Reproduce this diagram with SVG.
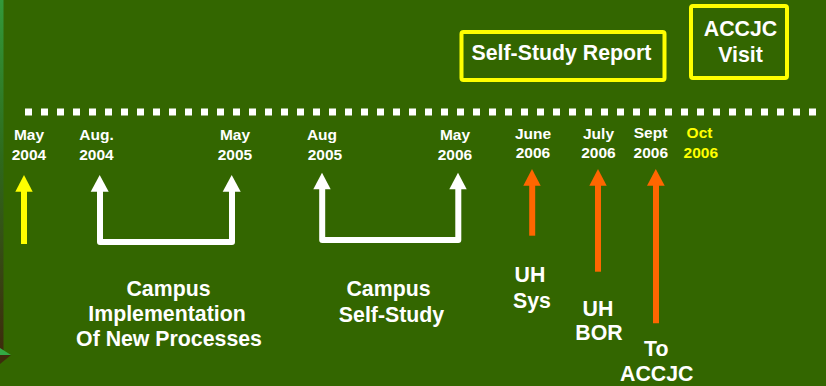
<svg xmlns="http://www.w3.org/2000/svg" width="826" height="386" viewBox="0 0 826 386">
<defs>
<linearGradient id="strip" x1="0" y1="0" x2="0" y2="1">
<stop offset="0" stop-color="#33993a"/>
<stop offset="0.45" stop-color="#2e6a1c"/>
<stop offset="1" stop-color="#3d2c0c"/>
</linearGradient>
<style>
.d{font-family:"Liberation Sans",Arial,sans-serif;font-weight:bold;font-size:15.5px;fill:#ffffff;text-anchor:middle}
.y{fill:#ffff00}
.b{font-family:"Liberation Sans",Arial,sans-serif;font-weight:bold;font-size:21.3px;fill:#ffffff;text-anchor:middle}
.box{fill:none;stroke:#ffff00;stroke-width:4}
.wl{fill:none;stroke:#ffffff;stroke-width:6;stroke-linejoin:round;stroke-linecap:round}
.ol{stroke:#ff6600;stroke-width:6}
.oh{fill:#ff6600}
.wh{fill:#ffffff}
</style>
</defs>
<rect x="0" y="0" width="826" height="386" fill="#336600"/>
<rect x="0" y="0" width="3.5" height="350" fill="url(#strip)"/>
<polygon points="0,348 11,355 0,355" fill="#33aa44"/>
<polygon points="0,355 11,355 0,364" fill="#3d2c0c"/>
<line x1="25" y1="112" x2="817" y2="112" stroke="#ffffff" stroke-width="7" stroke-dasharray="7 9"/>

<g id="date-may2004"><text class="d" x="29" y="140">May</text><text class="d" x="29" y="160">2004</text></g>
<g id="date-aug2004"><text class="d" x="96.5" y="140">Aug.</text><text class="d" x="96.5" y="160">2004</text></g>
<g id="date-may2005"><text class="d" x="235" y="140">May</text><text class="d" x="235" y="160">2005</text></g>
<g id="date-aug2005"><text class="d" x="322" y="140">Aug</text><text class="d" x="325" y="160">2005</text></g>
<g id="date-may2006"><text class="d" x="455" y="140">May</text><text class="d" x="455" y="160">2006</text></g>
<g id="date-june2006"><text class="d" x="533" y="139">June</text><text class="d" x="533" y="158">2006</text></g>
<g id="date-july2006"><text class="d" x="598.5" y="139">July</text><text class="d" x="598.5" y="158">2006</text></g>
<g id="date-sept2006"><text class="d" x="650.5" y="138">Sept</text><text class="d" x="650.8" y="158">2006</text></g>
<g id="date-oct2006"><text class="d y" x="699.5" y="138">Oct</text><text class="d y" x="700.8" y="158">2006</text></g>

<g id="self-study-report"><rect class="box" x="461.5" y="32" width="203" height="48" rx="2"/><text class="b" x="561.5" y="60">Self-Study Report</text></g>
<g id="accjc-visit"><rect class="box" x="691" y="6" width="96" height="72" rx="2"/><text class="b" x="740.5" y="36">ACCJC</text><text class="b" x="740.5" y="61.5">Visit</text></g>

<g id="campus-implementation"><text class="b" x="168.5" y="296">Campus</text><text class="b" x="167" y="320.5">Implementation</text><text class="b" x="169" y="345.5">Of New Processes</text></g>
<g id="campus-self-study"><text class="b" x="388.5" y="296">Campus</text><text class="b" x="391.5" y="321.5">Self-Study</text></g>
<g id="uh-sys"><text class="b" x="530" y="282">UH</text><text class="b" x="532" y="307.5">Sys</text></g>
<g id="uh-bor"><text class="b" x="598" y="316">UH</text><text class="b" x="599" y="340">BOR</text></g>
<g id="to-accjc"><text class="b" x="656.3" y="356">To</text><text class="b" x="656.7" y="380.5">ACCJC</text></g>

<g id="connectors">
<line x1="24" y1="191" x2="24" y2="244" stroke="#ffff00" stroke-width="6"/>
<polygon points="24,175 32.7,191.7 15.3,191.7" fill="#ffff00"/>
<path class="wl" d="M100,191 V242 H232 V191"/>
<polygon class="wh" points="99.7,175 108.7,191.7 90.7,191.7"/>
<polygon class="wh" points="231.7,175 240.7,191.7 222.7,191.7"/>
<path class="wl" d="M322.2,189 V240 H458.3 V189"/>
<polygon class="wh" points="322,172.7 330.7,189.3 313.3,189.3"/>
<polygon class="wh" points="458,172.7 466.7,189.3 449.3,189.3"/>
<line class="ol" x1="532.2" y1="185" x2="532.2" y2="235.7"/>
<polygon class="oh" points="532,169 540.7,185.7 523.3,185.7"/>
<line class="ol" x1="598" y1="185" x2="598" y2="271.7"/>
<polygon class="oh" points="598,169 606.7,185.7 589.3,185.7"/>
<line class="ol" x1="656" y1="185" x2="656" y2="323.3"/>
<polygon class="oh" points="655.8,169 664.7,185.7 647,185.7"/>
</g>
</svg>
